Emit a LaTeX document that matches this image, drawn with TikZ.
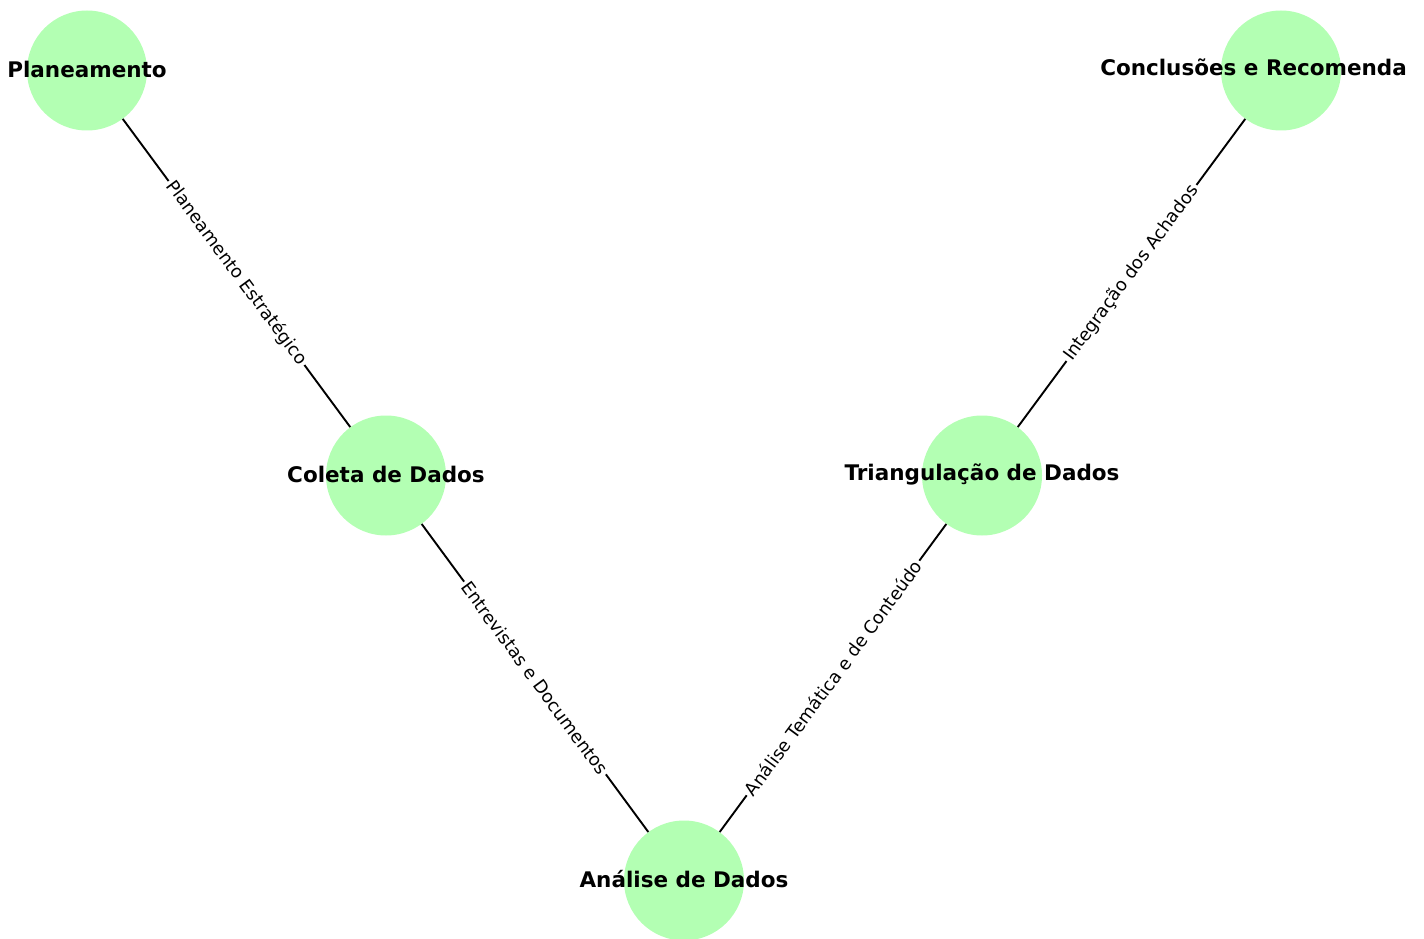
\documentclass[tikz,border=0pt]{standalone}
\usepackage{fontspec}
\setmainfont{DejaVu Sans}
\definecolor{nodegreen}{RGB}{179,255,179}
\begin{document}
\begin{tikzpicture}[x=1pt,y=-1pt,
  nd/.style={circle,fill=nodegreen,minimum size=120pt,inner sep=0pt},
  nt/.style={font=\bfseries\fontsize{21.5}{25}\selectfont,inner sep=0pt,text=black},
  el/.style={font=\fontsize{17.8}{21}\selectfont,fill=white,inner sep=2.5pt,sloped},
  edgeline/.style={line width=1.9pt,black}]
\useasboundingbox (0,0) rectangle (1424,939);
\begin{scope}
\clip (0,0) rectangle (1406,939);
\node[nd] (p) at (87,70.5) {};
\node[nd] (c) at (386,475.5) {};
\node[nd] (a) at (684,880.5) {};
\node[nd] (t) at (982,475.5) {};
\node[nd] (r) at (1281,70.5) {};
\draw[edgeline] (p) -- node[el] {Planeamento Estratégico} (c);
\draw[edgeline] (c) -- node[el] {Entrevistas e Documentos} (a);
\draw[edgeline] (a) -- node[el] {Análise Temática e de Conteúdo} (t);
\draw[edgeline] (t) -- node[el] {Integração dos Achados} (r);
\node[nt] (pt) at ([yshift=1.5pt]p.center) {Planeamento};
\node[nt] (ct) at ([yshift=1.5pt]c.center) {Coleta de Dados};
\node[nt] (at) at ([yshift=1.5pt]a.center) {Análise de Dados};
\node[nt] (tt) at ([yshift=1.5pt]t.center) {Triangulação de Dados};
\node[nt] (rt) at ([yshift=1.5pt]r.center) {Conclusões e Recomendações};
\end{scope}
\end{tikzpicture}
\end{document}
